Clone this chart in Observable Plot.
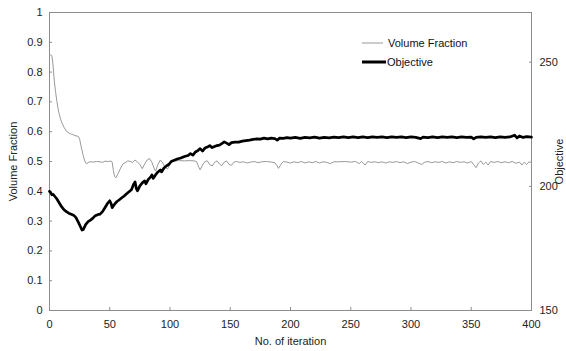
<!DOCTYPE html>
<html>
<head>
<meta charset="utf-8">
<script src="https://cdn.jsdelivr.net/npm/d3@7"></script>
<script src="https://cdn.jsdelivr.net/npm/@observablehq/plot@0.6"></script>
<style>
  body { margin: 0; background: #fff; font-family: "Liberation Sans", Arial, sans-serif; }
  #wrap { position: relative; width: 566px; height: 351px; overflow: hidden; }
  .legend { position: absolute; left: 362px; top: 33px; font-size: 11px; color: #111; }
  .legend .row { display: flex; align-items: center; height: 19px; }
  .legend svg { display: block; }
</style>
</head>
<body>
<div id="wrap"></div>
<script>
// ---- data ----
const seriesNames = ["Volume Fraction", "Objective"];

const volIter = [0,1,2,3,4,5,6,7,8,9,10,12,14,16,18,20,22,24,25,26,27,28,29,30,31,33,36,39,42,44,46,49,51,52,53,54,55,57,59,61,63,65,67,69,71,73,75,77,79,81,83,85,87,88,90,92,94,96,98,100,102,104,108,112,116,120,122,124,125,127,129,131,133,135,137,139,141,143,145,147,149,151,153,155,158,161,164,167,170,173,176,180,184,187,189,190,192,194,197,200,203,206,209,212,215,218,221,224,227,230,233,236,240,245,250,254,257,259,262,264,267,270,273,276,279,282,285,288,291,294,297,300,303,306,309,311,314,317,320,323,326,329,332,335,338,341,344,347,350,352,354,356,358,360,362,364,366,369,372,375,378,381,384,387,390,392,394,396,398,400];
const volFrac = [0.855,0.858,0.855,0.82,0.77,0.735,0.705,0.68,0.66,0.645,0.633,0.615,0.602,0.596,0.592,0.589,0.586,0.584,0.575,0.555,0.537,0.52,0.505,0.495,0.493,0.499,0.498,0.5,0.499,0.497,0.501,0.5,0.502,0.498,0.47,0.45,0.445,0.46,0.478,0.492,0.497,0.502,0.5,0.497,0.505,0.498,0.49,0.476,0.492,0.505,0.51,0.497,0.475,0.468,0.49,0.505,0.495,0.48,0.475,0.49,0.5,0.502,0.503,0.502,0.503,0.502,0.5,0.48,0.472,0.488,0.5,0.502,0.49,0.485,0.497,0.502,0.492,0.486,0.498,0.502,0.49,0.487,0.498,0.5,0.497,0.499,0.495,0.498,0.5,0.496,0.499,0.5,0.498,0.496,0.485,0.477,0.49,0.5,0.498,0.495,0.499,0.496,0.5,0.495,0.499,0.496,0.5,0.495,0.499,0.497,0.493,0.499,0.499,0.5,0.498,0.5,0.493,0.5,0.488,0.5,0.497,0.499,0.496,0.499,0.495,0.499,0.497,0.5,0.496,0.499,0.493,0.498,0.5,0.495,0.49,0.497,0.5,0.496,0.499,0.497,0.5,0.495,0.499,0.496,0.5,0.497,0.499,0.495,0.5,0.49,0.479,0.495,0.502,0.49,0.498,0.488,0.5,0.497,0.5,0.496,0.499,0.496,0.5,0.494,0.498,0.488,0.498,0.49,0.499,0.497];

const objIter = [0,1,2,3,4,5,6,8,10,12,14,16,18,20,22,24,26,27,28,30,32,34,36,38,40,42,44,46,48,50,51,52,54,56,58,60,62,64,66,68,70,71,72,73,75,77,79,80,82,84,85,86,88,90,92,93,95,97,99,101,103,106,109,112,115,117,119,121,123,125,127,129,131,133,135,137,139,141,143,145,147,149,151,154,157,160,163,166,169,172,175,178,181,184,187,189,191,194,197,200,204,208,212,216,220,224,228,232,236,240,244,248,252,256,260,264,268,272,276,280,284,288,292,296,300,304,308,310,314,318,322,326,330,334,338,342,346,350,352,354,358,362,366,370,374,378,382,386,388,390,393,396,400];
const objValue = [198.0,197.4,196.6,196.8,196.2,195.6,195.0,193.4,191.8,190.6,189.8,189.2,188.8,188.4,187.4,185.5,183.4,182.4,182.6,184.6,185.8,186.4,187.2,188.2,188.6,188.8,189.8,191.4,193.0,194.2,193.2,191.4,192.8,193.9,194.6,195.4,196.1,197.0,197.8,198.6,201.0,201.8,199.2,198.2,200.2,201.4,202.2,201.0,202.8,203.8,204.6,203.2,204.6,205.8,206.6,205.8,207.4,208.2,208.8,210.0,210.4,211.0,211.4,212.0,212.4,213.2,212.6,213.8,214.3,215.2,214.2,215.4,215.8,216.4,215.6,216.0,216.4,216.6,217.2,217.9,217.4,216.8,217.6,217.8,217.8,218.2,218.4,218.6,218.9,219.1,219.0,219.4,219.1,219.4,219.2,218.6,219.4,219.3,219.6,219.4,219.7,219.3,219.7,219.5,219.8,219.4,219.7,219.5,219.8,219.6,219.9,219.6,219.9,219.6,219.9,219.6,219.9,219.7,219.9,219.6,219.9,219.7,219.9,219.6,219.9,219.7,219.2,219.8,219.6,219.9,219.6,219.9,219.7,219.9,219.6,219.9,219.7,219.8,219.1,219.7,219.9,219.7,219.9,219.6,219.9,219.7,219.9,220.6,219.5,220.3,219.7,220.0,219.8];

const xTicks = [0,50,100,150,200,250,300,350,400];
const leftTicks = [0,0.1,0.2,0.3,0.4,0.5,0.6,0.7,0.8,0.9,1];
const rightTicks = [150,200,250];
const objDomain = [150,270];

// ---- build ----
const toLeft = o => (o - objDomain[0]) / (objDomain[1] - objDomain[0]);
const volData = volIter.map((x, i) => ({x, y: volFrac[i]}));
const objData = objIter.map((x, i) => ({x, y: toLeft(objValue[i])}));

const gray = "#8c8c8c";
const chart = Plot.plot({
  width: 566,
  height: 351,
  marginTop: 12,
  marginBottom: 41,
  marginLeft: 49,
  marginRight: 35,
  style: {fontFamily: '"Liberation Sans", Arial, sans-serif', fontSize: "11px", color: "#222", background: "white"},
  x: {domain: [0, 400]},
  y: {domain: [0, 1]},
  marks: [
    Plot.frame({stroke: gray}),
    Plot.axisX({ticks: xTicks, tickSize: -3, tickPadding: 13, stroke: gray, tickFormat: d => d,
      label: "No. of iteration", labelAnchor: "center", labelArrow: false, labelOffset: 34}),
    Plot.axisY({ticks: leftTicks, anchor: "left", tickSize: -3, tickPadding: 10, stroke: gray,
      tickFormat: d => String(+d.toFixed(1)),
      label: "Volume Fraction", labelAnchor: "center", labelArrow: false, labelOffset: 40}),
    Plot.axisY(rightTicks.map(toLeft), {anchor: "right", tickSize: -3, tickPadding: 11, stroke: gray,
      tickFormat: d => Math.round(objDomain[0] + d * (objDomain[1] - objDomain[0])),
      label: "Objective", labelAnchor: "center", labelArrow: false, labelOffset: 31}),
    Plot.line(volData, {x: "x", y: "y", stroke: "#999", strokeWidth: 1}),
    Plot.line(objData, {x: "x", y: "y", stroke: "#000", strokeWidth: 2.7})
  ]
});

const wrap = document.getElementById("wrap");
wrap.appendChild(chart);

// legend
const legend = document.createElement("div");
legend.className = "legend";
const styles = [{stroke: "#999", w: 1, len: 21, gap: 5}, {stroke: "#000", w: 3, len: 24, gap: 1}];
seriesNames.forEach((name, i) => {
  const row = document.createElement("div");
  row.className = "row";
  const s = styles[i];
  row.innerHTML = `<svg width="${s.len}" height="6"><line x1="0" x2="${s.len}" y1="3" y2="3" stroke="${s.stroke}" stroke-width="${s.w}"/></svg><span style="margin-left:${s.gap}px">${name}</span>`;
  legend.appendChild(row);
});
wrap.appendChild(legend);
</script>
</body>
</html>
